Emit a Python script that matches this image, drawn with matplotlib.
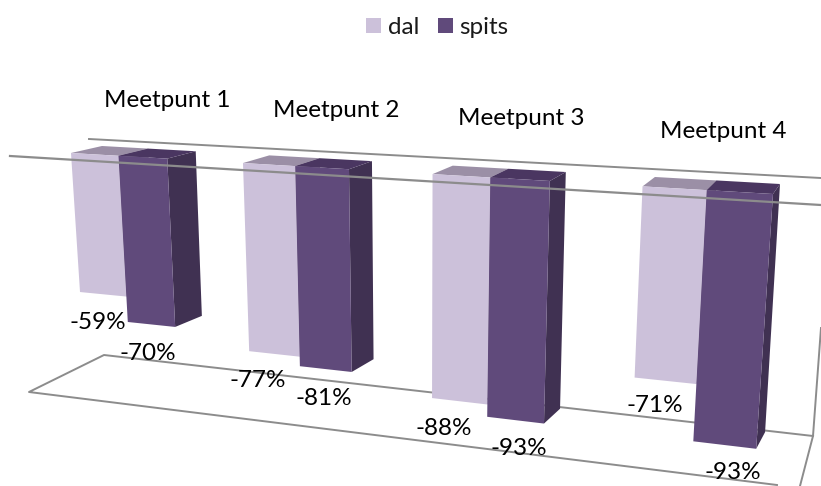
import matplotlib
matplotlib.use('Agg')
import matplotlib.pyplot as plt
import numpy as np

categories = ['Meetpunt 1', 'Meetpunt 2', 'Meetpunt 3', 'Meetpunt 4']
dal = [-59, -77, -88, -71]
spits = [-70, -81, -93, -93]

plt.rcParams['font.family'] = ['Lato', 'DejaVu Sans']

BAR_STEP = 3.5  # one category = 2 bars + gap
U_MAX = 3 * BAR_STEP + 2


def homography(corners):
    # maps (u, v) with u in 0..U_MAX, v in -100..0 onto a picture quad
    src = [(0, 0), (U_MAX, 0), (0, -100), (U_MAX, -100)]
    rows = []
    rhs = []
    for (u, v), (x, y) in zip(src, corners):
        rows.append([u, v, 1, 0, 0, 0, -u * x, -v * x])
        rows.append([0, 0, 0, u, v, 1, -u * y, -v * y])
        rhs += [x, y]
    return np.append(np.linalg.solve(np.array(rows, float), np.array(rhs, float)), 1).reshape(3, 3)


# the 3d look: one plane for the front faces, one for the back faces
front = homography([(71, 153), (773, 194), (86, 384.5), (755, 467)])
back = homography([(102, 146), (780, 184), (114, 373), (764, 450)])


def project(h, u, v):
    p = h @ np.array([u, v, 1.0])
    return p[0] / p[2], p[1] / p[2]


fig = plt.figure(figsize=(8.21, 4.86), dpi=100)
ax = fig.add_axes([0, 0, 1, 1])
ax.set_xlim(0, 821)
ax.set_ylim(486, 0)
ax.axis('off')

grid_color = '#8c8c8c'
# back wall line and floor, behind the bars
ax.plot([89, 821], [139, 178], color=grid_color, lw=1.4, zorder=1)
ax.plot([821, 813, 104, 29, 777], [328, 436, 355, 392, 485], color=grid_color, lw=1.4, zorder=1)
ax.plot([813, 800], [436, 486], color=grid_color, lw=1.4, zorder=1)


def draw_bar(u, value, c_front, c_top, c_side, z):
    a, b = u, u + 1
    top = [project(front, a, 0), project(front, b, 0), project(back, b, 0), project(back, a, 0)]
    side = [project(front, b, 0), project(back, b, 0), project(back, b, value), project(front, b, value)]
    face = [project(front, a, 0), project(front, b, 0), project(front, b, value), project(front, a, value)]
    ax.fill(*zip(*side), color=c_side, lw=0, zorder=z)
    ax.fill(*zip(*top), color=c_top, lw=0, zorder=z)
    ax.fill(*zip(*face), color=c_front, lw=0, zorder=z + 0.1)


label_offsets_dal = [(-5, 28), (-17, 27), (-16, 27), (-10, 25)]
label_offsets_spits = [(-4, 29), (-2, 29), (3, 28), (8, 27)]
cat_offsets = [(49, -55), (41, -56), (31, -59), (17, -59)]
text_size = 17.5

for i, name in enumerate(categories):
    u = i * BAR_STEP
    draw_bar(u, dal[i], '#CCC1DA', '#9B8FA6', '#8F8399', 2 + i)
    draw_bar(u + 1, spits[i], '#604A7B', '#4A3661', '#403152', 2.5 + i)

    x, y = project(front, u + 0.5, dal[i])
    ax.text(x + label_offsets_dal[i][0], y + label_offsets_dal[i][1], '%d%%' % dal[i],
            ha='center', va='center', fontsize=text_size, color='black', zorder=10)
    x, y = project(front, u + 1.5, spits[i])
    ax.text(x + label_offsets_spits[i][0], y + label_offsets_spits[i][1], '%d%%' % spits[i],
            ha='center', va='center', fontsize=text_size, color='black', zorder=10)
    x, y = project(front, u + 1, 0)
    ax.text(x + cat_offsets[i][0], y + cat_offsets[i][1], name,
            ha='center', va='center', fontsize=text_size, color='black', zorder=10)

# front gridline runs over the bars
ax.plot([10, 821], [156, 205], color=grid_color, lw=1.6, zorder=9)

# legend
ax.fill([366, 381, 381, 366], [18, 18, 33, 33], color='#CCC1DA', lw=0)
ax.text(388, 27, 'dal', ha='left', va='center', fontsize=text_size, color='#1a1a1a')
ax.fill([438, 453, 453, 438], [18, 18, 33, 33], color='#604A7B', lw=0)
ax.text(459, 27, 'spits', ha='left', va='center', fontsize=text_size, color='#1a1a1a')

fig.savefig('out.png', dpi=100)
